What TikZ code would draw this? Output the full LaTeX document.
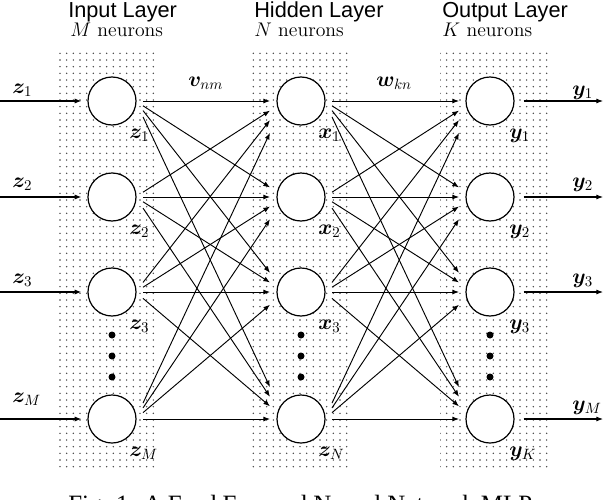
\RequirePackage{fix-cm}
\documentclass[tikz,border=0pt]{standalone}
\usepackage{fontspec}
\usepackage{amsmath}
\usepackage{bm}
\newfontfamily\titlefont{Liberation Sans}
\newfontfamily\capfont{Liberation Serif}
\usetikzlibrary{arrows.meta,patterns.meta,calc}
\begin{document}
\begin{tikzpicture}[x=0.75pt,y=-0.75pt,
  neuron/.style={circle,draw,line width=0.9pt,fill=white,minimum size=36pt,inner sep=0pt},
  region/.style={pattern={Dots[distance=5pt,radius=0.6pt]},pattern color=black!75},
  conn/.style={line width=0.7pt,-{Latex[length=5pt,width=3.8pt]}},
  io/.style={line width=0.8pt,-{Latex[length=5pt,width=3.8pt]}},
  lab/.style={font=\fontsize{16}{19}\selectfont,inner sep=0pt,anchor=base west},
  ttl/.style={font=\titlefont\fontsize{16.3}{19}\selectfont,inner sep=0pt,anchor=base west},
  subttl/.style={font=\fontsize{14.8}{18}\selectfont,inner sep=0pt,anchor=base west},
  vdot/.style={circle,fill,inner sep=0pt,minimum size=5.25pt}]
\useasboundingbox (0,0) rectangle (604,500);
\clip (0,0) rectangle (604,500);
% shaded layers
\fill[region] (58,50) rectangle (158,470);
\fill[region] (250,50) rectangle (348,470);
\fill[region] (440,50) rectangle (548,470);
% titles
\node[ttl] (t1) at (68,17) {Input Layer};
\node[subttl] (s1) at (70,36) {$M$ neurons};
\node[ttl] (t2) at (254,17) {Hidden Layer};
\node[subttl] (s2) at (254,36) {$N$ neurons};
\node[ttl] (t3) at (442,17) {Output Layer};
\node[subttl] (s3) at (442,36) {$K$ neurons};
% neurons
\foreach \n/\y in {1/101,2/197,3/292,4/419} {
  \node[neuron] (i\n) at (112,\y) {};
  \node[neuron] (h\n) at (301,\y) {};
  \node[neuron] (o\n) at (490,\y) {};
  \coordinate (zin\n) at (0,\y);
  \coordinate (yout\n) at (603,\y);
  \draw[io,shorten >=4.5pt] (zin\n) -- (i\n);
  \draw[io,shorten <=6.75pt] (o\n) -- (yout\n);
}
% connections
\foreach \s in {1,...,4} {
  \foreach \t in {1,...,4} {
    \draw[conn] let \p1=(i\s.center), \p2=(h\t.center) in
      (\x1+23.25pt,{\y1+0.05*(\y2-\y1)}) -- (\x2-23.25pt,{\y2+0.1*(\y1-\y2)});
    \draw[conn] let \p1=(h\s.center), \p2=(o\t.center) in
      (\x1+23.25pt,{\y1+0.05*(\y2-\y1)}) -- (\x2-23.25pt,{\y2+0.1*(\y1-\y2)});
  }
}
% vertical dots
\foreach \c in {112,301,490} {
  \foreach \y in {335,356,377} {
    \node[vdot] at (\c,\y) {};
  }
}
% weight labels
\node[lab] (v) at (188,86) {$\bm{v}_{nm}$};
\node[lab] (w) at (376,86) {$\bm{w}_{kn}$};
% input / output labels
\node[lab] (lz1) at (12,93) {$\bm{z}_1$};
\node[lab] (lz2) at (12,187) {$\bm{z}_2$};
\node[lab] (lz3) at (12,283) {$\bm{z}_3$};
\node[lab] (lz4) at (12,402) {$\bm{z}_M$};
\node[lab] (ly1) at (572,95) {$\bm{y}_1$};
\node[lab] (ly2) at (572,187) {$\bm{y}_2$};
\node[lab] (ly3) at (572,283) {$\bm{y}_3$};
\node[lab] (ly4) at (572,410) {$\bm{y}_M$};
% node labels
\foreach \n/\a/\b/\c in {1/\bm{z}_1/\bm{x}_1/\bm{y}_1,2/\bm{z}_2/\bm{x}_2/\bm{y}_2,3/\bm{z}_3/\bm{x}_3/\bm{y}_3,4/\bm{z}_M/\bm{z}_N/\bm{y}_K} {
  \path (i\n.center) ++(17,37) node[lab] (ni\n) {$\a$};
  \path (h\n.center) ++(17,37) node[lab] (nh\n) {$\b$};
  \path (o\n.center) ++(19,37) node[lab] (no\n) {$\c$};
}
% caption (cut at the lower edge, as in the reference)
\node[anchor=base west,inner sep=0pt,font=\capfont\fontsize{18.7}{22}\selectfont] (cap) at (68,512) {Fig. 1: A Feed Forward Neural Network MLP};
\end{tikzpicture}
\end{document}
